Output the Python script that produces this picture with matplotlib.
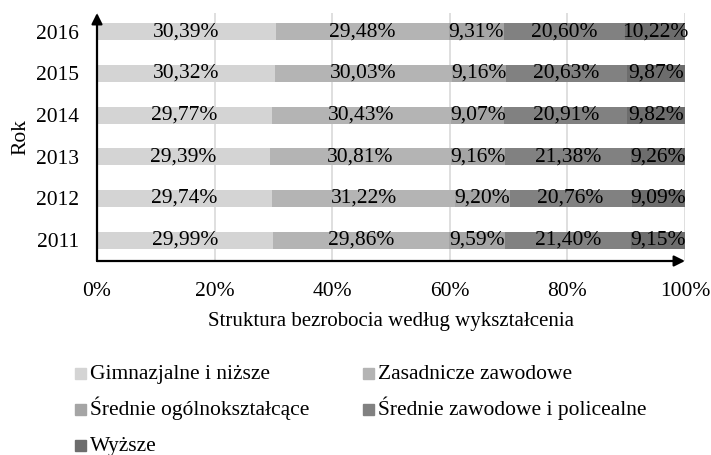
import numpy as np
import matplotlib.pyplot as plt
from matplotlib.patches import Rectangle

plt.rcParams['font.family'] = ['Liberation Serif', 'DejaVu Serif']

years = ['2011', '2012', '2013', '2014', '2015', '2016']
categories = ['Gimnazjalne i niższe', 'Zasadnicze zawodowe', 'Średnie ogólnokształcące',
              'Średnie zawodowe i policealne', 'Wyższe']
gimn = [29.99, 29.74, 29.39, 29.77, 30.32, 30.39]
zasad = [29.86, 31.22, 30.81, 30.43, 30.03, 29.48]
sr_ogol = [9.59, 9.20, 9.16, 9.07, 9.16, 9.31]
sr_zaw = [21.40, 20.76, 21.38, 20.91, 20.63, 20.60]
wyzsze = [9.15, 9.09, 9.26, 9.82, 9.87, 10.22]
series = [gimn, zasad, sr_ogol, sr_zaw, wyzsze]
colors = ['#d4d4d4', '#b4b4b4', '#a5a5a5', '#818181', '#6d6d6d']

W, H = 711, 455
fig = plt.figure(figsize=(W / 100, H / 100), dpi=100)
ax = fig.add_axes([97 / W, 1 - 261 / H, 588 / W, 248 / H])

fs = 15.5
y = np.arange(len(years))
left = np.zeros(len(years))
for vals, col, name in zip(series, colors, categories):
    v = np.array(vals) / 100.0
    ax.barh(y, v, left=left, height=0.41, color=col, label=name, zorder=2)
    for yi, li, vi in zip(y, left, v):
        ax.text(li + vi / 2, yi, f'{vi * 100:.2f}%'.replace('.', ','),
                ha='center', va='center', fontsize=fs, zorder=3)
    left = left + v

ax.set_xlim(0, 1)
ax.set_ylim(-0.5, 5.45)
ax.set_xticks([0, 0.2, 0.4, 0.6, 0.8, 1.0])
ax.set_xticklabels(['0%', '20%', '40%', '60%', '80%', '100%'], fontsize=fs)
ax.set_yticks(y)
ax.set_yticklabels(years, fontsize=fs)
ax.tick_params(axis='x', length=0, pad=15)
ax.tick_params(axis='y', length=0, pad=13)
ax.xaxis.grid(True, color='#d9d9d9', linewidth=1.2, zorder=0)
for s in ax.spines.values():
    s.set_visible(False)

# axis arrows
arrow = dict(arrowstyle='-|>', color='black', lw=1.6, mutation_scale=16,
             shrinkA=0, shrinkB=0)
ax.annotate('', xy=(0, 1.0), xytext=(0, 0), xycoords='axes fraction', arrowprops=arrow)
ax.annotate('', xy=(1.0, 0), xytext=(0, 0), xycoords='axes fraction', arrowprops=arrow)

ax.set_xlabel('Struktura bezrobocia według wykształcenia', fontsize=15, labelpad=8)
ax.set_ylabel('Rok', fontsize=fs, labelpad=4)

# legend, laid out row by row in two columns
col_x = [75, 363]
row_bottom = [379, 415, 451]
for i, (name, col) in enumerate(zip(categories, colors)):
    px = col_x[i % 2]
    pb = row_bottom[i // 2]
    fig.patches.append(Rectangle((px / W, 1 - pb / H), 11 / W, 11 / H,
                                 transform=fig.transFigure, color=col))
    fig.text((px + 15) / W, 1 - pb / H, name, fontsize=fs, va='baseline', ha='left')

fig.savefig('out.png', dpi=100)
